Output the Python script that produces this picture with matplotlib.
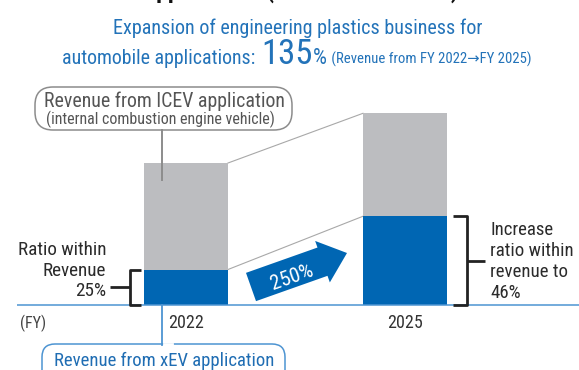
import numpy as np
import matplotlib
matplotlib.use("Agg")
import matplotlib.pyplot as plt
import matplotlib.patches as mpatches
import matplotlib.transforms as mtransforms
from matplotlib import font_manager as fm

# ---- data (revenue index, FY2022 total = 100) ----
years = ["2022", "2025"]
xev_revenue = [25.0, 62.5]
icev_revenue = [75.0, 72.5]
xev_ratio_labels = ["25%", "46%"]
xev_growth_label = "250%"
total_growth_label = "135"

# ---- fonts ----
available = {f.name for f in fm.fontManager.ttflist}
cond = next((n for n in ["Roboto Condensed", "Liberation Sans Narrow",
                         "Open Sans Condensed", "DejaVu Sans Condensed"]
             if n in available), None)
if cond is None:
    FAM = ["DejaVu Sans"]
    STRETCH = "condensed"
else:
    FAM = [cond, "DejaVu Sans"]
    STRETCH = "normal"
plt.rcParams["font.family"] = FAM

BLUE = "#0066b3"
GRAY = "#bcbdc0"
TITLE_BLUE = "#2373b9"
LINE_BLUE = "#4d94d2"
DARK = "#2b2b2b"
ICEV_TXT = "#555555"
ICEV_EDGE = "#8c8c8c"

W, H = 579, 370
fig = plt.figure(figsize=(W / 100, H / 100), dpi=100)
ax = fig.add_axes([0, 0, 1, 1])
ax.set_axis_off()

# axis scales: 219 px between fiscal years, 1.42 px per index point
px_per_cat = 219.0
px_per_val = 1.42
x0_px = 186.0
base_px = 305.0
ax.set_xlim(-x0_px / px_per_cat, (W - x0_px) / px_per_cat)
ax.set_ylim(-(H - base_px) / px_per_val, base_px / px_per_val)

# pixel-space transform for annotations (origin top-left)
pix = mtransforms.Affine2D().scale(1 / W, -1 / H).translate(0, 1) + fig.transFigure


def T(x, y, s, **kw):
    kw.setdefault("fontstretch", STRETCH)
    return ax.text(x, y, s, transform=pix, **kw)


def dx(px):
    return px / px_per_cat


# ---- bars ----
x = np.arange(len(years))
bw = dx(84)
totals = np.add(xev_revenue, icev_revenue)
ax.bar(x, xev_revenue, bw, color=BLUE, zorder=3, linewidth=0)
ax.bar(x, icev_revenue, bw, bottom=xev_revenue, color=GRAY, zorder=3, linewidth=0)

# baseline
ax.plot([dx(17 - x0_px), dx(W - x0_px)], [0, 0], color=LINE_BLUE, lw=1.1, zorder=4,
        solid_capstyle="butt")

# connector lines between bars
ax.plot([x[0] + bw / 2, x[1] - bw / 2], [totals[0], totals[1]], color="#a8a8a8", lw=0.8, zorder=2)
ax.plot([x[0] + bw / 2, x[1] - bw / 2], [xev_revenue[0], xev_revenue[1]], color="#a8a8a8", lw=0.8, zorder=2)


# ---- brackets ----
def bracket(xv, xc, xt, y0, y1):
    ym = (y0 + y1) / 2
    ax.plot([xc, xv, xv, xc], [y1, y1, y0, y0], color="#222222", lw=2.0,
            solid_joinstyle="round", solid_capstyle="butt", zorder=5)
    ax.plot([xv, xt], [ym, ym], color="#222222", lw=2.0, solid_capstyle="butt", zorder=5)


left_edge = x[0] - bw / 2
bracket(left_edge - dx(14), left_edge - dx(3), left_edge - dx(34), 0, xev_revenue[0])
right_edge = x[1] + bw / 2
bracket(right_edge + dx(20), right_edge + dx(6), right_edge + dx(38), 0, xev_revenue[1])

# ---- growth arrow ----
arrow = mpatches.FancyArrow(251, 287, 96, -34, width=30, head_width=44, head_length=26,
                            length_includes_head=True, color=BLUE, transform=pix,
                            linewidth=0, zorder=5)
ax.add_patch(arrow)
T(292, 277, xev_growth_label, color="white", fontsize=15, rotation=19.5,
  ha="center", va="center", rotation_mode="anchor", zorder=6)

# ---- texts ----
for s, y in [("Ratio within", 250), ("Revenue", 271), (xev_ratio_labels[0], 291)]:
    T(106, y, s, color=DARK, fontsize=13.8, ha="right", va="center")
for s, y in [("Increase", 230), ("ratio within", 251), ("revenue to", 272),
             (xev_ratio_labels[1], 293)]:
    T(490, y, s, color=DARK, fontsize=13.6, ha="left", va="center")

T(20, 323, "(FY)", color="#444444", fontsize=11.5, ha="left", va="center")
for xi, yr in zip(x, years):
    T(x0_px + xi * px_per_cat, 323, yr, color="#333333", fontsize=13, ha="center", va="center")

# ---- title ----
T(298, 28, "Expansion of engineering plastics business for", color=TITLE_BLUE,
  fontsize=14.5, ha="center", va="center")

fig.canvas.draw()
renderer = fig.canvas.get_renderer()
inv = pix.inverted()
pieces = [("automobile applications: ", 14.3), (total_growth_label, 25),
          ("%", 16), (" (Revenue from FY 2022\u2192FY 2025)", 10.6)]
xcur = 62
for s, fsz in pieces:
    t = T(xcur, 64, s, color=TITLE_BLUE, fontsize=fsz, ha="left", va="baseline")
    bb = t.get_window_extent(renderer)
    xcur = inv.transform((bb.x1, bb.y0))[0] + 1

# clipped heading at the very top
T(300, -2.5, "Applications (Automotive Sector)", color="#111111", fontsize=17,
  fontweight="bold", ha="center", va="baseline")

# ---- ICEV callout ----
icev_box = mpatches.FancyBboxPatch((35, 87), 257, 43, boxstyle="round,pad=0,rounding_size=18",
                                   transform=pix, facecolor="white", edgecolor=ICEV_EDGE,
                                   lw=1.1, zorder=6)
ax.add_patch(icev_box)
T(164, 101, "Revenue from ICEV application", color=ICEV_TXT, fontsize=14.3,
  ha="center", va="center", zorder=7)
T(160, 119, "(internal combustion engine vehicle)", color=ICEV_TXT, fontsize=11.5,
  ha="center", va="center", zorder=7)
ax.plot([162, 162], [130, 180], color=ICEV_EDGE, lw=1.4, transform=pix, zorder=6)

# ---- xEV callout ----
xev_box = mpatches.FancyBboxPatch((42, 344), 243, 40, boxstyle="round,pad=0,rounding_size=13",
                                  transform=pix, facecolor="white", edgecolor=LINE_BLUE,
                                  lw=1.1, zorder=6)
ax.add_patch(xev_box)
ax.plot([163.5, 172], [344, 344], color="white", lw=2, transform=pix, zorder=6.5)
ax.plot([162, 162], [305, 344.5], color=LINE_BLUE, lw=1.3, transform=pix, zorder=6.6)
T(164, 361, "Revenue from xEV application", color="#1f6db3", fontsize=13.5,
  ha="center", va="center", zorder=7)

fig.savefig("out.png", dpi=100)
